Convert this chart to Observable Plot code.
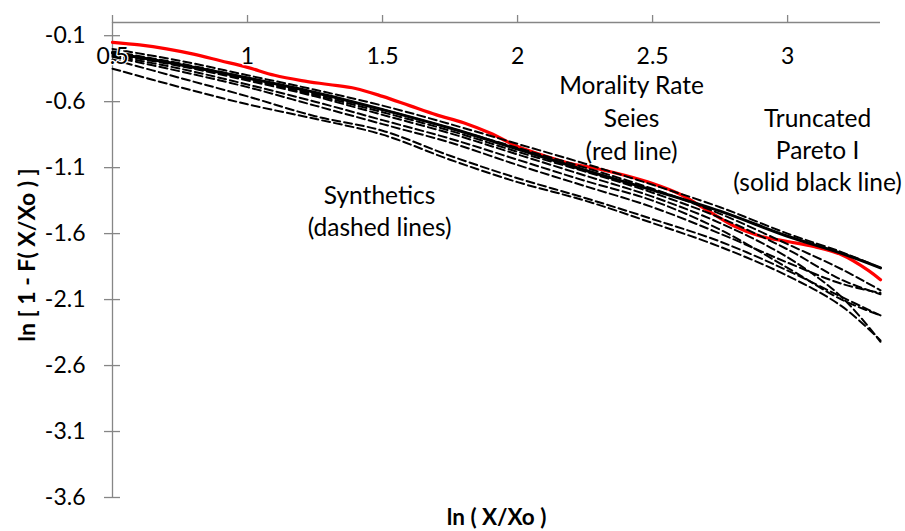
<!DOCTYPE html>
<html><head><meta charset="utf-8">
<script src="https://cdn.jsdelivr.net/npm/d3@7"></script>
<script src="https://cdn.jsdelivr.net/npm/@observablehq/plot@0.6"></script>
<style>body{margin:0;background:#fff}#chart svg{display:block}</style>
</head><body><div id="chart"></div>
<script>
// x grid shared by the Pareto line and the synthetic series
const xGrid = [0.5, 0.75, 1.0, 1.25, 1.5, 1.75, 2.0, 2.25, 2.5, 2.75, 3.0, 3.2, 3.344];
const pareto = [-0.23, -0.32, -0.42, -0.53, -0.66, -0.80, -0.96, -1.12, -1.27, -1.43, -1.62, -1.75, -1.86];
const synth1 = [-0.20, -0.29, -0.40, -0.51, -0.63, -0.77, -0.92, -1.07, -1.23, -1.40, -1.60, -1.74, -1.86];
const synth2 = [-0.22, -0.31, -0.42, -0.54, -0.66, -0.80, -0.95, -1.10, -1.26, -1.45, -1.68, -1.87, -2.03];
const synth3 = [-0.23, -0.32, -0.43, -0.55, -0.68, -0.82, -0.98, -1.13, -1.29, -1.48, -1.72, -1.95, -2.06];
const synth4 = [-0.24, -0.33, -0.44, -0.56, -0.70, -0.84, -1.00, -1.16, -1.32, -1.52, -1.78, -2.08, -2.42];
const synth5 = [-0.25, -0.35, -0.47, -0.60, -0.74, -0.88, -1.04, -1.20, -1.35, -1.57, -1.86, -2.10, -2.22];
const synth6 = [-0.26, -0.37, -0.49, -0.63, -0.77, -0.91, -1.08, -1.24, -1.40, -1.60, -1.82, -1.98, -2.05];
const synth7 = [-0.28, -0.42, -0.56, -0.71, -0.82, -1.01, -1.18, -1.33, -1.49, -1.66, -1.88, -2.08, -2.22];
const synth8 = [-0.35, -0.49, -0.62, -0.73, -0.85, -1.04, -1.21, -1.35, -1.52, -1.70, -1.92, -2.15, -2.41];
// mortality rate series (red)
const redX = [0.5, 0.6, 0.7, 0.8, 0.9, 1.0, 1.1, 1.2, 1.3, 1.4, 1.5, 1.6, 1.7, 1.8, 1.9, 2.0, 2.1, 2.2, 2.3, 2.4, 2.5, 2.6, 2.7, 2.8, 2.9, 3.0, 3.1, 3.2, 3.3, 3.344];
const redY = [-0.15, -0.17, -0.20, -0.24, -0.29, -0.34, -0.40, -0.44, -0.47, -0.50, -0.56, -0.63, -0.70, -0.76, -0.84, -0.94, -1.01, -1.07, -1.11, -1.16, -1.22, -1.30, -1.42, -1.54, -1.62, -1.66, -1.70, -1.76, -1.88, -1.95];
const xTicks = [0.5, 1, 1.5, 2, 2.5, 3];
const yTicks = [-0.1, -0.6, -1.1, -1.6, -2.1, -2.6, -3.1, -3.6];

const synthetics = [synth1, synth2, synth3, synth4, synth5, synth6, synth7, synth8];
const dashedRows = synthetics.flatMap((ys, i) => ys.map((y, j) => ({x: xGrid[j], y, s: i})));
const paretoRows = pareto.map((y, j) => ({x: xGrid[j], y}));
const redRows = redY.map((y, j) => ({x: redX[j], y}));

const axisGray = "#868686";
const chart = Plot.plot({
  width: 905, height: 531,
  marginTop: 22, marginBottom: 34, marginLeft: 112, marginRight: 25,
  x: {domain: [0.5, 3.344]},
  y: {domain: [-3.6, 0]},
  style: {fontFamily: "Lato, 'Open Sans', sans-serif", background: "white", color: "black"},
  marks: [
    Plot.ruleY([0], {stroke: axisGray, strokeWidth: 1.3}),
    Plot.ruleX([0.5], {stroke: axisGray, strokeWidth: 1.3}),
    Plot.axisX({anchor: "top", ticks: xTicks, tickSize: 8, tickFormat: () => "", stroke: axisGray, strokeWidth: 1.3, label: null}),
    Plot.axisY({anchor: "left", ticks: yTicks, tickSize: 16, dx: 8, tickFormat: () => "", stroke: axisGray, strokeWidth: 1.3, label: null}),
    Plot.text(yTicks, {y: d => d, frameAnchor: "left", dx: -27, textAnchor: "end", lineAnchor: "middle", text: d => d.toFixed(1), fontSize: 23, fill: "black"}),
    Plot.line(redRows, {x: "x", y: "y", stroke: "#ff0000", strokeWidth: 3.2, curve: "catmull-rom"}),
    Plot.line(dashedRows, {x: "x", y: "y", z: "s", stroke: "black", strokeWidth: 2, strokeDasharray: "8,4", curve: "catmull-rom"}),
    Plot.line(paretoRows, {x: "x", y: "y", stroke: "black", strokeWidth: 3, curve: "catmull-rom"}),
    Plot.text(xTicks, {x: d => d, frameAnchor: "top", dy: 34, lineAnchor: "middle", textAnchor: "middle", text: d => String(d), fontSize: 23, fill: "black", stroke: "white", strokeWidth: 2.5}),
    Plot.text(["Synthetics\n(dashed lines)"], {x: 1.489, y: -1.42, fontSize: 24.5, lineHeight: 1.28, lineAnchor: "middle", fill: "black"}),
    Plot.text(["Morality Rate\nSeies\n(red line)"], {x: 2.422, y: -0.71, fontSize: 24.5, lineHeight: 1.35, lineAnchor: "middle", fill: "black"}),
    Plot.text(["Truncated\nPareto I\n(solid black line)"], {x: 3.111, y: -0.955, fontSize: 24.5, lineHeight: 1.32, lineAnchor: "middle", fill: "black"}),
    Plot.text(["ln ( X/Xo )"], {frameAnchor: "bottom", dy: 20, lineAnchor: "middle", textAnchor: "middle", fontWeight: "bold", fontSize: 22.5, fill: "black"}),
    Plot.text(["ln [ 1 - F( X/Xo ) ]"], {frameAnchor: "left", dx: -85, dy: -5, rotate: -90, lineAnchor: "middle", textAnchor: "middle", fontWeight: "bold", fontSize: 23, fill: "black"})
  ]
});
document.getElementById("chart").appendChild(chart);
</script>
</body></html>
